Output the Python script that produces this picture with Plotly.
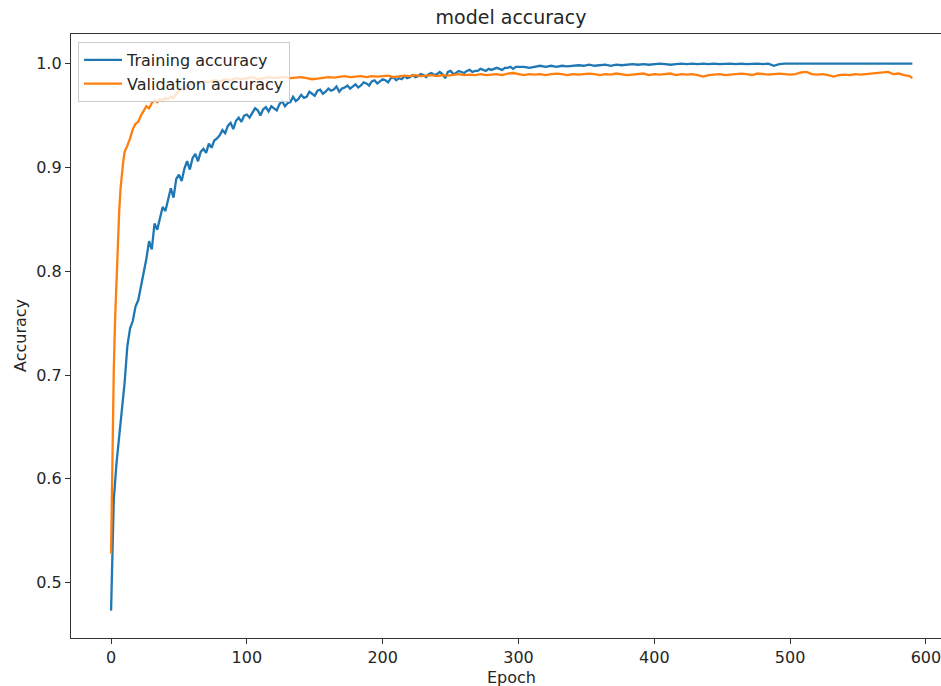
import plotly.graph_objects as go

# ---------------- data ----------------
train_epochs = list(range(0, 301, 2)) + list(range(304, 589, 4)) + [590]
train_acc = [
    0.473, 0.580, 0.615, 0.642, 0.662, 0.693, 0.728, 0.745, 0.752, 0.766,
    0.772, 0.785, 0.801, 0.812, 0.829, 0.821, 0.846, 0.840, 0.851, 0.862,
    0.858, 0.868, 0.880, 0.871, 0.889, 0.893, 0.887, 0.899, 0.906, 0.898,
    0.909, 0.913, 0.906, 0.915, 0.918, 0.914, 0.923, 0.919, 0.926, 0.928,
    0.931, 0.936, 0.933, 0.940, 0.943, 0.937, 0.945, 0.948, 0.944, 0.950,
    0.951, 0.948, 0.953, 0.957, 0.955, 0.950, 0.956, 0.958, 0.954, 0.959,
    0.957, 0.955, 0.961, 0.964, 0.959, 0.962, 0.963, 0.968, 0.964, 0.966,
    0.970, 0.967, 0.968, 0.973, 0.971, 0.969, 0.974, 0.975, 0.971, 0.973,
    0.976, 0.974, 0.975, 0.978, 0.973, 0.976, 0.977, 0.979, 0.976, 0.978,
    0.980, 0.977, 0.979, 0.982, 0.981, 0.979, 0.983, 0.984, 0.981, 0.983,
    0.985, 0.984, 0.982, 0.986, 0.987, 0.984, 0.986, 0.985, 0.988, 0.986,
    0.987, 0.989, 0.987, 0.988, 0.990, 0.989, 0.987, 0.990, 0.991, 0.989,
    0.990, 0.992, 0.990, 0.986, 0.992, 0.993, 0.990, 0.991, 0.993, 0.992,
    0.991, 0.993, 0.994, 0.992, 0.993, 0.993, 0.995, 0.994, 0.993, 0.995,
    0.994, 0.995, 0.996, 0.995, 0.994, 0.996, 0.996, 0.997, 0.995, 0.997,
    0.997,
    0.997, 0.996, 0.997, 0.998, 0.997, 0.998, 0.997, 0.998, 0.9975, 0.998,
    0.9985, 0.998, 0.999, 0.998, 0.9985, 0.999, 0.998, 0.999, 0.9985, 0.999,
    0.9995, 0.999, 0.9995, 0.999, 0.9995, 1.000, 0.9995, 0.999, 0.9995, 1.000,
    0.9995, 1.000, 0.9995, 1.000, 0.9995, 1.000, 0.9995, 1.000, 1.000, 0.9995,
    1.000, 0.9995, 1.000, 1.000, 0.9995, 1.000, 0.998, 0.9995, 1.000, 1.000,
    0.9995, 1.000, 1.000, 0.9995, 1.000, 1.000, 0.9995, 1.000, 1.000, 0.9995,
    1.000, 1.000, 0.9995, 1.000, 1.000, 1.000, 0.9995, 1.000, 1.000, 1.000,
    1.000, 1.000,
    1.000,
]

val_epochs = list(range(0, 13)) + list(range(14, 61, 2)) + list(range(64, 589, 4)) + [590]
val_acc = [
    0.528, 0.645, 0.705, 0.755, 0.795, 0.825, 0.858, 0.880, 0.895, 0.906,
    0.915, 0.919, 0.921,
    0.928, 0.937, 0.942, 0.944, 0.950, 0.954, 0.959, 0.957, 0.962, 0.965,
    0.963, 0.966, 0.964, 0.967, 0.966, 0.968, 0.967, 0.971, 0.974, 0.976,
    0.975, 0.978, 0.979, 0.981,
    0.981, 0.983, 0.982, 0.984, 0.983, 0.985, 0.984, 0.986, 0.985, 0.986,
    0.987, 0.985, 0.986, 0.987, 0.986, 0.9865, 0.987, 0.986, 0.9865, 0.987,
    0.986, 0.985, 0.9855, 0.986, 0.987, 0.9865, 0.987, 0.988, 0.987, 0.9875,
    0.988, 0.987, 0.988, 0.9875, 0.988, 0.9885, 0.987, 0.988, 0.9885, 0.988,
    0.989, 0.988, 0.9885, 0.989, 0.988, 0.989, 0.9885, 0.989, 0.990, 0.989,
    0.9895, 0.989, 0.990, 0.989, 0.9895, 0.990, 0.989, 0.9905, 0.991, 0.990,
    0.989, 0.990, 0.9895, 0.990, 0.989, 0.990, 0.9905, 0.990, 0.989, 0.990,
    0.9895, 0.990, 0.9905, 0.990, 0.989, 0.990, 0.9895, 0.9905, 0.990, 0.989,
    0.9895, 0.990, 0.9905, 0.989, 0.990, 0.9895, 0.990, 0.9905, 0.989, 0.990,
    0.9895, 0.990, 0.989, 0.9875, 0.989, 0.9895, 0.990, 0.989, 0.9895, 0.990,
    0.9905, 0.990, 0.989, 0.9905, 0.990, 0.9895, 0.990, 0.9905, 0.990, 0.9895,
    0.990, 0.9915, 0.992, 0.990, 0.9895, 0.990, 0.989, 0.9875, 0.989, 0.9895,
    0.989, 0.990, 0.9895, 0.990, 0.9905, 0.991, 0.9915, 0.992, 0.990, 0.9905,
    0.989, 0.988,
    0.986,
]

x_ticks = [0, 100, 200, 300, 400, 500, 600]
y_ticks = [0.5, 0.6, 0.7, 0.8, 0.9, 1.0]

n_t = min(len(train_epochs), len(train_acc))
n_v = min(len(val_epochs), len(val_acc))

FONT = "DejaVu Sans"
TXT = "#262626"
FS = 16

W, H = 941, 686
L, T, B = 71, 34, 48
plot_w = W - L
plot_h = H - T - B

fig = go.Figure()
fig.add_trace(go.Scatter(
    x=train_epochs[:n_t], y=train_acc[:n_t], mode="lines",
    name="Training accuracy",
    line=dict(color="#1f77b4", width=2.3),
))
fig.add_trace(go.Scatter(
    x=val_epochs[:n_v], y=val_acc[:n_v], mode="lines",
    name="Validation accuracy",
    line=dict(color="#ff7f0e", width=2.3),
))

axis_common = dict(
    showgrid=False, zeroline=False, showline=True, linecolor="#333333",
    linewidth=1.3, ticks="outside", ticklen=5, tickwidth=1.2,
    tickcolor="#333333", tickfont=dict(family=FONT, size=FS, color=TXT),
    ticklabeloverflow="allow",
)

fig.update_layout(
    width=W, height=H,
    margin=dict(l=L, r=0, t=T, b=B, pad=0),
    paper_bgcolor="white", plot_bgcolor="white",
    font=dict(family=FONT, color=TXT),
    title=dict(text="model accuracy", x=511 / W, xref="container",
               xanchor="center", y=1 - 17 / H, yanchor="middle",
               font=dict(family=FONT, size=19, color=TXT)),
    xaxis=dict(range=[-29.5, 611.1], tickvals=x_ticks, mirror=True, **axis_common),
    yaxis=dict(range=[0.4466, 1.0286], tickvals=y_ticks, tickformat=".1f", **axis_common),
    legend=dict(x=(78 - L) / plot_w, y=1 - (42 - T) / plot_h, xanchor="left", yanchor="top",
                bgcolor="rgba(255,255,255,0.8)", bordercolor="#cccccc",
                borderwidth=1, font=dict(family=FONT, size=FS, color=TXT),
                itemwidth=38),
    annotations=[
        dict(text="Epoch", xref="paper", yref="paper", x=(511 - L) / plot_w,
             y=-40 / plot_h, xanchor="center", yanchor="middle",
             showarrow=False, font=dict(family=FONT, size=FS, color=TXT)),
        dict(text="Accuracy", xref="paper", yref="paper", x=(20 - L) / plot_w,
             y=0.5, xanchor="center", yanchor="middle", textangle=-90,
             showarrow=False, font=dict(family=FONT, size=FS, color=TXT)),
    ],
)

fig.write_html("out.html",
               config={"displayModeBar": False},
               post_script="document.body.style.margin='0';")
